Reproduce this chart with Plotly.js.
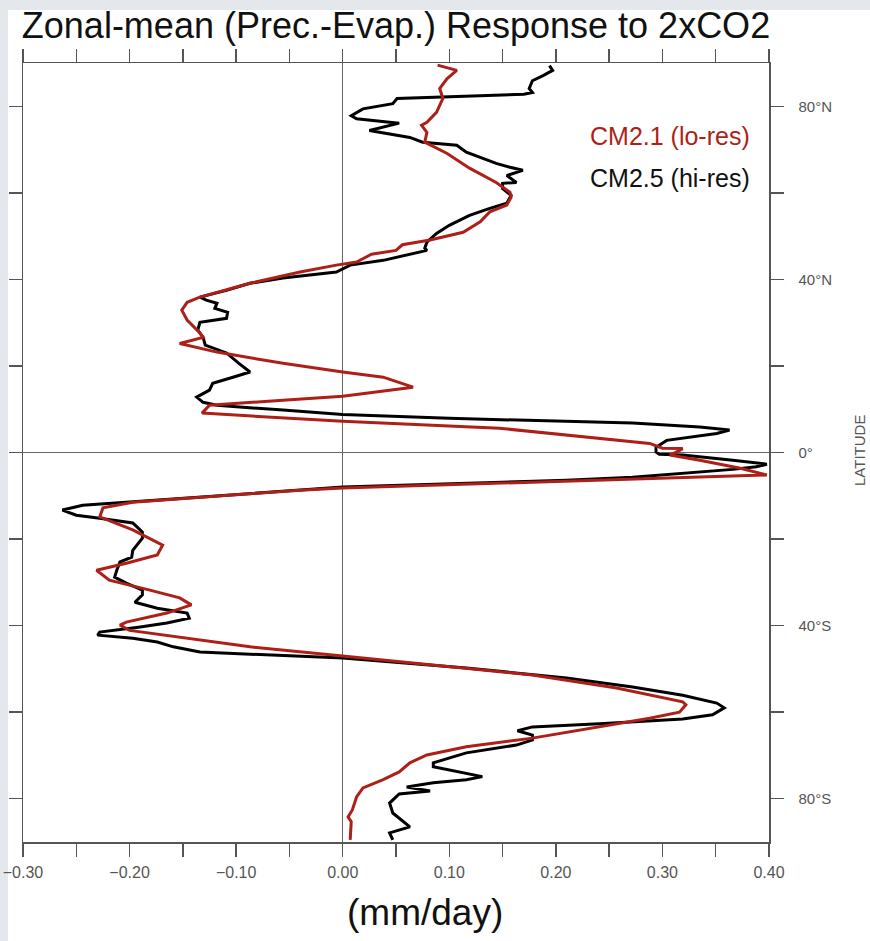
<!DOCTYPE html>
<html>
<head>
<meta charset="utf-8">
<script src="https://cdn.plot.ly/plotly-3.0.1.min.js"></script>
<style>
  html, body { margin: 0; padding: 0; background: #ffffff; }
  #chart { width: 870px; height: 941px; }
</style>
</head>
<body>
<div id="chart"></div>
<script>
// Zonal-mean P-E change under doubled CO2, two GFDL model resolutions.
// Values in mm/day, listed from the North Pole to the South Pole.

// CM2.5 (hi-res)
const hiLat = [89.4, 88.3, 87.1, 85.9, 84.1, 83.2, 82.8, 81.8, 80.6, 79.4, 77.8, 77.1, 76.3, 76.1, 74.4, 74.0,
  72.8, 71.7, 71.0, 69.4, 68.0, 66.8, 65.9, 65.2, 64.0, 62.4, 62.2, 61.0, 59.4, 57.6, 56.4, 54.8,
  52.5, 50.6, 48.6, 47.2, 46.7, 44.4, 43.3, 42.0, 41.7, 40.3, 39.1, 37.5, 35.9, 35.2, 34.5, 33.3,
  32.4, 31.0, 30.1, 28.3, 26.6, 24.8, 23.0, 20.7, 18.6, 17.4, 16.0, 14.4, 12.8, 11.6, 10.9, 9.8,
  8.8, 7.9, 6.8, 5.9, 5.2, 4.4, 2.8, 1.2, 0.1, -0.4, -0.6, -1.8, -2.7, -3.3, -3.9, -5.7,
  -6.4, -8.0, -8.7, -11.5, -12.2, -13.3, -14.5, -15.2, -16.3, -17.2, -18.4, -19.8, -21.4, -22.6, -24.2, -25.3,
  -27.2, -28.8, -30.2, -31.8, -32.9, -34.6, -36.0, -37.1, -38.3, -39.4, -40.3, -41.5, -42.2, -42.9, -43.8, -44.9,
  -46.1, -46.8, -47.5, -49.8, -52.1, -54.2, -56.1, -57.9, -59.0, -60.6, -61.6, -62.7, -63.4, -64.3, -65.3, -66.4,
  -67.6, -69.4, -71.7, -72.6, -73.8, -74.9, -75.6, -76.3, -77.3, -78.2, -78.9, -81.0, -83.3, -86.5, -87.9, -89.5];
const hiPE = [0.194, 0.197, 0.188, 0.178, 0.175, 0.178, 0.170, 0.051, 0.047, 0.019, 0.008, 0.013, 0.044, 0.053, 0.025, 0.035,
  0.063, 0.075, 0.107, 0.116, 0.131, 0.144, 0.157, 0.169, 0.154, 0.163, 0.150, 0.150, 0.158, 0.154, 0.138, 0.119,
  0.100, 0.088, 0.079, 0.077, 0.079, 0.038, 0.007, -0.004, -0.006, -0.056, -0.087, -0.109, -0.134, -0.128, -0.118, -0.120,
  -0.108, -0.109, -0.134, -0.136, -0.131, -0.129, -0.109, -0.098, -0.087, -0.103, -0.122, -0.125, -0.137, -0.131, -0.118, -0.056,
  0.000, 0.100, 0.272, 0.335, 0.363, 0.351, 0.304, 0.294, 0.294, 0.297, 0.319, 0.366, 0.398, 0.388, 0.366, 0.272,
  0.210, 0.000, -0.040, -0.197, -0.244, -0.263, -0.250, -0.228, -0.197, -0.193, -0.188, -0.188, -0.193, -0.197, -0.198, -0.209,
  -0.212, -0.214, -0.203, -0.188, -0.188, -0.195, -0.174, -0.146, -0.144, -0.165, -0.190, -0.228, -0.230, -0.197, -0.174, -0.159,
  -0.134, -0.060, 0.000, 0.116, 0.210, 0.272, 0.319, 0.351, 0.358, 0.347, 0.319, 0.241, 0.178, 0.164, 0.178, 0.178,
  0.163, 0.116, 0.085, 0.085, 0.110, 0.131, 0.116, 0.085, 0.060, 0.082, 0.053, 0.044, 0.047, 0.063, 0.044, 0.047];

// CM2.1 (lo-res)
const loLat = [89.5, 88.3, 86.4, 84.1, 81.8, 78.6, 76.3, 75.6, 74.0, 71.7, 69.1, 65.7, 62.4, 60.1, 59.0, 57.2,
  55.6, 53.3, 50.9, 49.1, 48.0, 46.7, 45.8, 44.0, 43.3, 41.7, 39.1, 35.9, 34.7, 32.9, 30.6, 27.6,
  26.6, 25.2, 23.2, 20.6, 18.6, 17.4, 15.1, 13.0, 12.1, 10.9, 9.1, 7.2, 5.6, 2.8, 2.1, 1.0,
  0.9, 0.1, -0.6, -1.8, -3.6, -5.2, -5.9, -8.2, -8.7, -11.5, -12.8, -14.9, -17.9, -20.2, -21.4, -23.7,
  -25.6, -27.2, -29.5, -31.8, -33.6, -35.2, -37.1, -39.2, -39.9, -41.1, -42.9, -44.9, -47.0, -49.1, -51.4, -54.4,
  -57.6, -58.3, -60.0, -61.4, -63.4, -66.0, -68.0, -69.9, -71.7, -73.8, -75.6, -77.5, -79.6, -82.6, -84.2, -85.3, -89.5];
const loPE = [0.089, 0.107, 0.098, 0.091, 0.094, 0.088, 0.079, 0.074, 0.079, 0.077, 0.098, 0.119, 0.144, 0.157, 0.158, 0.154,
  0.138, 0.129, 0.113, 0.082, 0.056, 0.050, 0.027, 0.013, -0.006, -0.040, -0.087, -0.134, -0.146, -0.151, -0.146, -0.134,
  -0.131, -0.153, -0.118, -0.056, 0.000, 0.038, 0.066, 0.000, -0.056, -0.125, -0.132, 0.000, 0.147, 0.263, 0.288, 0.300,
  0.319, 0.313, 0.307, 0.335, 0.372, 0.398, 0.300, 0.000, -0.040, -0.197, -0.225, -0.228, -0.197, -0.178, -0.169, -0.174,
  -0.203, -0.231, -0.219, -0.181, -0.153, -0.142, -0.165, -0.203, -0.209, -0.200, -0.146, -0.087, 0.000, 0.085, 0.178, 0.257,
  0.319, 0.322, 0.316, 0.288, 0.241, 0.178, 0.116, 0.079, 0.063, 0.053, 0.038, 0.019, 0.013, 0.009, 0.005, 0.008, 0.007];

// Axis ticks: every 0.05 mm/day and every 20 degrees, labels on alternate ticks
const xTickVals = [-0.30, -0.25, -0.20, -0.15, -0.10, -0.05, 0.00, 0.05, 0.10, 0.15, 0.20, 0.25, 0.30, 0.35, 0.40];
const xTickText = ['\u22120.30', '', '\u22120.20', '', '\u22120.10', '', '0.00', '', '0.10', '', '0.20', '', '0.30', '', '0.40'];
const latTickVals = [-80, -60, -40, -20, 0, 20, 40, 60, 80];
const latTickText = ['80°S', '', '40°S', '', '0°', '', '40°N', '', '80°N'];

const seriesNames = ['CM2.1 (lo-res)', 'CM2.5 (hi-res)'];
const RED = '#ad1f17';
const AXIS = '#555555';
const FONT = '"Liberation Sans", Arial, sans-serif';

const traces = [
  { x: hiPE, y: hiLat, name: seriesNames[1], type: 'scatter', mode: 'lines',
    line: { color: '#000000', width: 3 }, showlegend: false },
  { x: loPE, y: loLat, name: seriesNames[0], type: 'scatter', mode: 'lines',
    line: { color: RED, width: 3 }, showlegend: false }
];

const W = 870, H = 941;
const M = { l: 23, r: 101, t: 63, b: 99 };
const pw = W - M.l - M.r, ph = H - M.t - M.b;
const px = v => (v - M.l) / pw;          // pixel -> paper x
const py = v => (H - M.b - v) / ph;      // pixel -> paper y

const layout = {
  width: W, height: H,
  margin: M,
  paper_bgcolor: '#e4e7eb',
  plot_bgcolor: '#ffffff',
  font: { family: FONT, color: AXIS },
  title: {
    text: 'Zonal-mean (Prec.-Evap.) Response to 2xCO2',
    font: { family: FONT, size: 36, color: '#111111' },
    x: 0.5, xref: 'paper', xanchor: 'center',
    y: 1 - 13 / H, yref: 'container', yanchor: 'top'
  },
  xaxis: {
    range: [-0.30, 0.40],
    tickmode: 'array', tickvals: xTickVals, ticktext: xTickText,
    ticks: 'outside', ticklen: 13, tickwidth: 1.5, tickcolor: AXIS,
    showline: true, linecolor: AXIS, linewidth: 1.5, mirror: 'ticks',
    showgrid: false,
    zeroline: true, zerolinecolor: '#666666', zerolinewidth: 1.2,
    tickfont: { family: FONT, size: 16, color: '#555555' },
    ticklabelstandoff: 2
  },
  yaxis: {
    range: [-90, 90], side: 'right',
    tickmode: 'array', tickvals: latTickVals, ticktext: latTickText,
    ticks: 'outside', ticklen: 13, tickwidth: 1.5, tickcolor: AXIS,
    showline: true, linecolor: AXIS, linewidth: 1.5, mirror: 'ticks',
    showgrid: false,
    zeroline: true, zerolinecolor: '#666666', zerolinewidth: 1.2,
    tickfont: { family: FONT, size: 15, color: '#555555' },
    ticklabelstandoff: 12
  },
  shapes: [
    // white page with a soft grey frame on the left and top edges
    { type: 'rect', xref: 'paper', yref: 'paper', layer: 'below',
      x0: px(8), x1: px(W + 2), y0: py(H + 2), y1: py(10),
      fillcolor: '#ffffff', line: { width: 0 } }
  ],
  annotations: [
    { text: seriesNames[0], xref: 'paper', yref: 'paper', x: px(752), y: py(136),
      xanchor: 'right', yanchor: 'middle', showarrow: false,
      font: { family: FONT, size: 25, color: RED } },
    { text: seriesNames[1], xref: 'paper', yref: 'paper', x: px(752), y: py(178),
      xanchor: 'right', yanchor: 'middle', showarrow: false,
      font: { family: FONT, size: 25, color: '#111111' } },
    { text: '(mm/day)', xref: 'paper', yref: 'paper', x: px(425), y: py(912),
      xanchor: 'center', yanchor: 'middle', showarrow: false,
      font: { family: FONT, size: 37, color: '#111111' } },
    { text: 'LATITUDE', xref: 'paper', yref: 'paper', x: px(859), y: py(451),
      xanchor: 'center', yanchor: 'middle', showarrow: false, textangle: -90,
      font: { family: FONT, size: 15, color: '#555555' } }
  ]
};

Plotly.newPlot('chart', traces, layout, { displayModeBar: false, staticPlot: true });
</script>
</body>
</html>
